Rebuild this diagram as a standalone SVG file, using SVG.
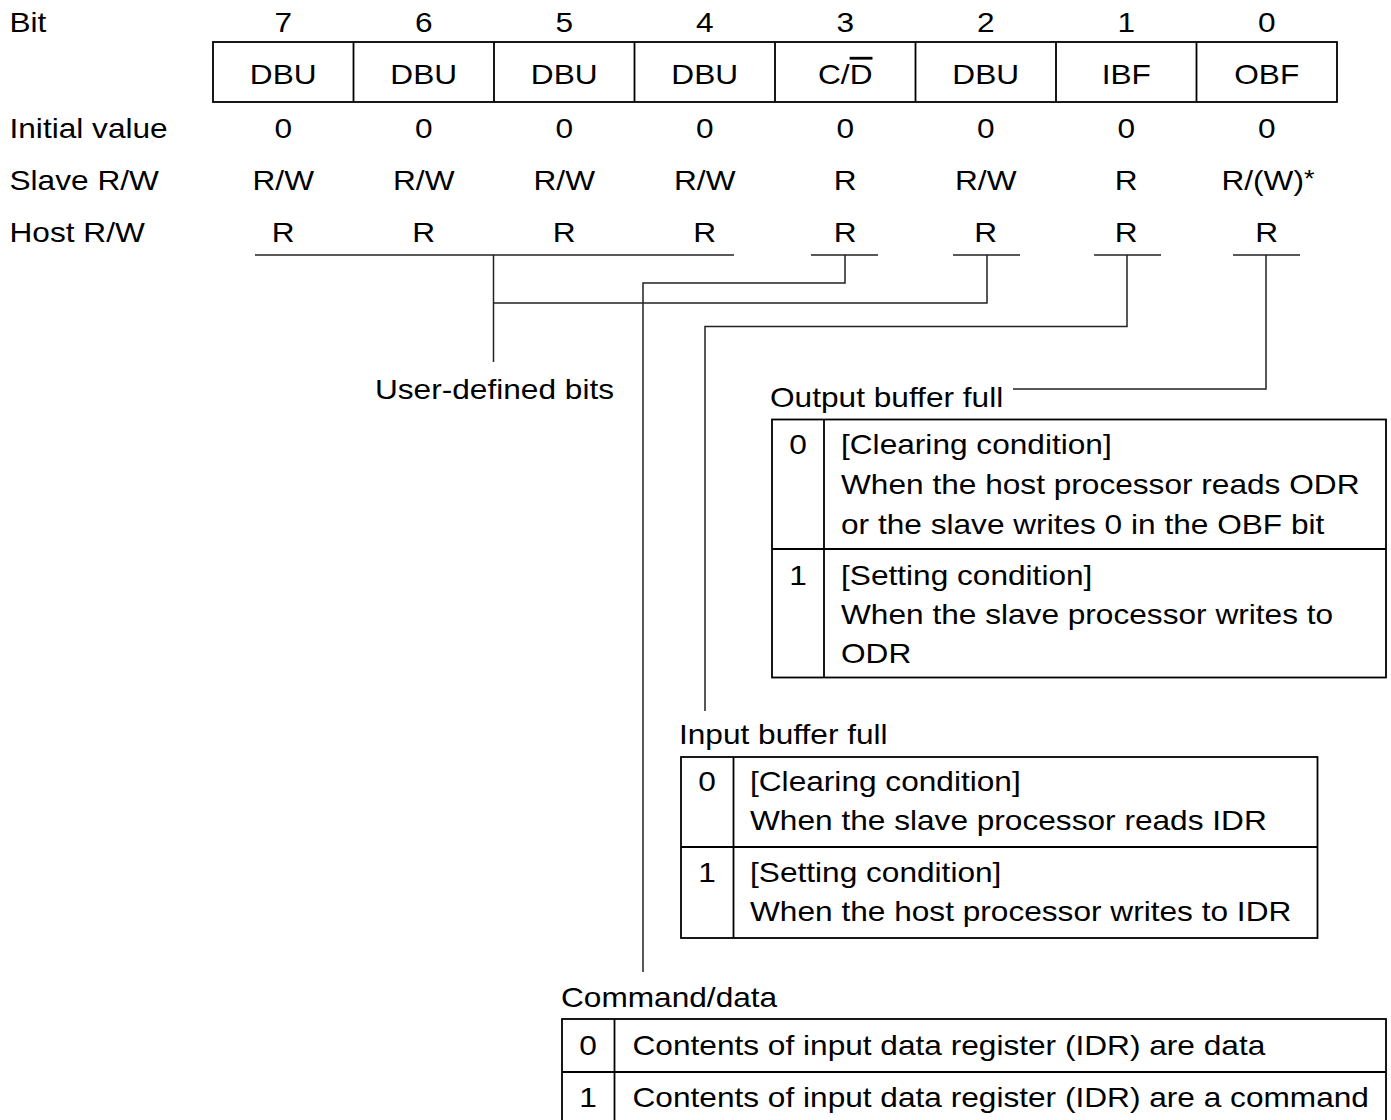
<svg xmlns="http://www.w3.org/2000/svg" width="1391" height="1120" viewBox="0 0 1391 1120">
<style>
text{font-family:"Liberation Sans",Arial,sans-serif;font-size:28px;fill:#000}
.m{text-anchor:middle}
.box{fill:none;stroke:#000;stroke-width:1.8}
.ln{fill:none;stroke:#000;stroke-width:1.8}
.cn{fill:none;stroke:#222;stroke-width:1.5}
.ov{text-decoration:overline}
</style>
<rect width="1391" height="1120" fill="#fff"/>

<g id="row-labels">
<text transform="translate(9.5,31.5) scale(1.13,1)">Bit</text>
<text transform="translate(9.5,138) scale(1.13,1)">Initial value</text>
<text transform="translate(9.5,190) scale(1.13,1)">Slave R/W</text>
<text transform="translate(9.5,242) scale(1.13,1)">Host R/W</text>
</g>

<g id="bit-numbers">
<text class="m" transform="translate(283.25,31.5) scale(1.13,1)">7</text>
<text class="m" transform="translate(423.75,31.5) scale(1.13,1)">6</text>
<text class="m" transform="translate(564.25,31.5) scale(1.13,1)">5</text>
<text class="m" transform="translate(704.75,31.5) scale(1.13,1)">4</text>
<text class="m" transform="translate(845.25,31.5) scale(1.13,1)">3</text>
<text class="m" transform="translate(985.75,31.5) scale(1.13,1)">2</text>
<text class="m" transform="translate(1126.25,31.5) scale(1.13,1)">1</text>
<text class="m" transform="translate(1266.75,31.5) scale(1.13,1)">0</text>
</g>

<g id="register">
<rect class="box" x="213" y="42" width="1124" height="60"/>
<path class="ln" d="M353.5 42V102M494 42V102M634.5 42V102M775 42V102M915.5 42V102M1056 42V102M1196.5 42V102"/>
<text class="m" transform="translate(283.25,84) scale(1.13,1)">DBU</text>
<text class="m" transform="translate(423.75,84) scale(1.13,1)">DBU</text>
<text class="m" transform="translate(564.25,84) scale(1.13,1)">DBU</text>
<text class="m" transform="translate(704.75,84) scale(1.13,1)">DBU</text>
<text class="m" transform="translate(845.25,84) scale(1.13,1)">C/<tspan class="ov">D</tspan></text>
<text class="m" transform="translate(985.75,84) scale(1.13,1)">DBU</text>
<text class="m" transform="translate(1126.25,84) scale(1.13,1)">IBF</text>
<text class="m" transform="translate(1266.75,84) scale(1.13,1)">OBF</text>
</g>

<g id="initial-values">
<text class="m" transform="translate(283.25,138) scale(1.13,1)">0</text>
<text class="m" transform="translate(423.75,138) scale(1.13,1)">0</text>
<text class="m" transform="translate(564.25,138) scale(1.13,1)">0</text>
<text class="m" transform="translate(704.75,138) scale(1.13,1)">0</text>
<text class="m" transform="translate(845.25,138) scale(1.13,1)">0</text>
<text class="m" transform="translate(985.75,138) scale(1.13,1)">0</text>
<text class="m" transform="translate(1126.25,138) scale(1.13,1)">0</text>
<text class="m" transform="translate(1266.75,138) scale(1.13,1)">0</text>
</g>

<g id="slave-rw">
<text class="m" transform="translate(283.25,190) scale(1.13,1)">R/W</text>
<text class="m" transform="translate(423.75,190) scale(1.13,1)">R/W</text>
<text class="m" transform="translate(564.25,190) scale(1.13,1)">R/W</text>
<text class="m" transform="translate(704.75,190) scale(1.13,1)">R/W</text>
<text class="m" transform="translate(845.25,190) scale(1.13,1)">R</text>
<text class="m" transform="translate(985.75,190) scale(1.13,1)">R/W</text>
<text class="m" transform="translate(1126.25,190) scale(1.13,1)">R</text>
<text class="m" transform="translate(1268,190) scale(1.13,1)">R/(W)<tspan font-size="24" dy="-3">*</tspan></text>
</g>

<g id="host-rw">
<text class="m" transform="translate(283.25,242) scale(1.13,1)">R</text>
<text class="m" transform="translate(423.75,242) scale(1.13,1)">R</text>
<text class="m" transform="translate(564.25,242) scale(1.13,1)">R</text>
<text class="m" transform="translate(704.75,242) scale(1.13,1)">R</text>
<text class="m" transform="translate(845.25,242) scale(1.13,1)">R</text>
<text class="m" transform="translate(985.75,242) scale(1.13,1)">R</text>
<text class="m" transform="translate(1126.25,242) scale(1.13,1)">R</text>
<text class="m" transform="translate(1266.75,242) scale(1.13,1)">R</text>
</g>

<g id="connectors">
<path class="cn" d="M255 255H734"/>
<path class="cn" d="M811 255H878M953 255H1020M1094 255H1161M1233 255H1300"/>
<path class="cn" d="M493.5 255V362"/>
<path class="cn" d="M493.5 303H987V255"/>
<path class="cn" d="M845 255V283H643V972"/>
<path class="cn" d="M1127 255V326.5H705V711"/>
<path class="cn" d="M1266 255V389H1013"/>
</g>

<g id="user-defined">
<text class="m" transform="translate(494.5,399) scale(1.13,1)">User-defined bits</text>
</g>

<g id="obf-table">
<text transform="translate(770,407) scale(1.13,1)">Output buffer full</text>
<rect class="box" x="772" y="419.5" width="614" height="258"/>
<path class="ln" d="M824 419.5V677.5M772 549H1386"/>
<text class="m" transform="translate(798,454) scale(1.13,1)">0</text>
<text transform="translate(841,454) scale(1.13,1)">[Clearing condition]</text>
<text transform="translate(841,494) scale(1.13,1)">When the host processor reads ODR</text>
<text transform="translate(841,534) scale(1.13,1)">or the slave writes 0 in the OBF bit</text>
<text class="m" transform="translate(798,585) scale(1.13,1)">1</text>
<text transform="translate(841,585) scale(1.13,1)">[Setting condition]</text>
<text transform="translate(841,624) scale(1.13,1)">When the slave processor writes to</text>
<text transform="translate(841,663) scale(1.13,1)">ODR</text>
</g>

<g id="ibf-table">
<text transform="translate(679,744) scale(1.13,1)">Input buffer full</text>
<rect class="box" x="681" y="757" width="636.5" height="181"/>
<path class="ln" d="M733.5 757V938M681 847H1317.5"/>
<text class="m" transform="translate(707,791) scale(1.13,1)">0</text>
<text transform="translate(750,791) scale(1.13,1)">[Clearing condition]</text>
<text transform="translate(750,830) scale(1.13,1)">When the slave processor reads IDR</text>
<text class="m" transform="translate(707,882) scale(1.13,1)">1</text>
<text transform="translate(750,882) scale(1.13,1)">[Setting condition]</text>
<text transform="translate(750,921) scale(1.13,1)">When the host processor writes to IDR</text>
</g>

<g id="cd-table">
<text transform="translate(561,1006.5) scale(1.13,1)">Command/data</text>
<rect class="box" x="562" y="1019" width="824" height="105"/>
<path class="ln" d="M614.5 1019V1124M562 1072H1386"/>
<text class="m" transform="translate(588,1055) scale(1.13,1)">0</text>
<text transform="translate(632.5,1055) scale(1.13,1)">Contents of input data register (IDR) are data</text>
<text class="m" transform="translate(588,1106.5) scale(1.13,1)">1</text>
<text transform="translate(632.5,1106.5) scale(1.13,1)">Contents of input data register (IDR) are a command</text>
</g>
</svg>
